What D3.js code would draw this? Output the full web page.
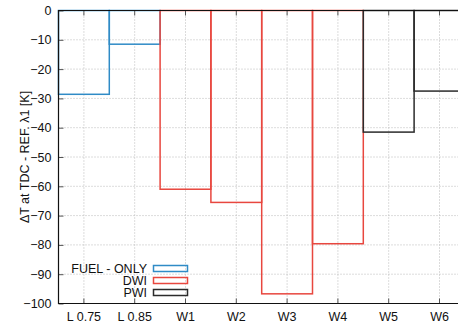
<!DOCTYPE html>
<html>
<head>
<meta charset="utf-8">
<script src="https://cdn.jsdelivr.net/npm/d3@7"></script>
<style>
  html, body { margin: 0; padding: 0; background: #fff; }
  svg { display: block; font-family: "Liberation Sans", Arial, Helvetica, sans-serif; }
</style>
</head>
<body>
<svg id="chart" width="458" height="324"></svg>
<script>
// Cases along the x axis
const categories = ["L 0.75", "L 0.85", "W1", "W2", "W3", "W4", "W5", "W6"];

// Temperature difference at TDC relative to the λ=1 reference [K]
const fuelOnlyCases = ["L 0.75", "L 0.85"];
const fuelOnlyValues = [-28.6, -11.5];
const dwiCases = ["W1", "W2", "W3", "W4"];
const dwiValues = [-61.0, -65.5, -96.7, -79.6];
const pwiCases = ["W5", "W6"];
const pwiValues = [-41.5, -27.5];

const yTicks = [0, -10, -20, -30, -40, -50, -60, -70, -80, -90, -100];

const seriesNames = ["FUEL - ONLY", "DWI", "PWI"];
const seriesColors = ["#2f8bc6", "#e8473f", "#2b2b2b"];

const series = [
  { name: seriesNames[0], color: seriesColors[0], cases: fuelOnlyCases, values: fuelOnlyValues },
  { name: seriesNames[1], color: seriesColors[1], cases: dwiCases, values: dwiValues },
  { name: seriesNames[2], color: seriesColors[2], cases: pwiCases, values: pwiValues }
];

const svg = d3.select("#chart");
const plotLeft = 58.5, plotTop = 10.5, plotBottom = 303.5, step = 50.8;
const plotRight = plotLeft + step * categories.length;

const x = d3.scaleBand().domain(categories).range([plotLeft, plotRight]).paddingInner(0).paddingOuter(0);
const y = d3.scaleLinear().domain([-100, 0]).range([plotBottom, plotTop]);

// Dotted grid
const grid = svg.append("g").attr("stroke", "#b9b9b9").attr("stroke-width", 1)
  .attr("stroke-dasharray", "1,2");
grid.selectAll("line.gx").data(categories).join("line")
  .attr("x1", d => x(d) + x.bandwidth() / 2).attr("x2", d => x(d) + x.bandwidth() / 2)
  .attr("y1", plotTop).attr("y2", plotBottom);
grid.selectAll("line.gy").data(yTicks.filter(t => t !== 0 && t !== -100)).join("line")
  .attr("x1", plotLeft).attr("x2", plotRight)
  .attr("y1", d => y(d)).attr("y2", d => y(d));

// Outlined boxes
series.forEach(s => {
  svg.append("g").selectAll("rect").data(s.cases.map((c, i) => ({ c, v: s.values[i] }))).join("rect")
    .attr("x", d => x(d.c))
    .attr("width", x.bandwidth())
    .attr("y", d => y(0))
    .attr("height", d => y(d.v) - y(0))
    .attr("fill", "none")
    .attr("stroke", s.color)
    .attr("stroke-width", 1.5);
});

// Axes
const yAxis = d3.axisLeft(y).tickValues(yTicks).tickSize(-5).tickPadding(7).tickFormat(d3.format("d"));
const gy = svg.append("g").attr("transform", `translate(${plotLeft},0)`).call(yAxis);
const xAxis = d3.axisBottom(x).tickSize(-5).tickPadding(9);
const gx = svg.append("g").attr("transform", `translate(0,${plotBottom})`).call(xAxis);
[gx, gy].forEach(g => {
  g.select(".domain").remove();
  g.selectAll("line").attr("stroke", "#555");
  g.selectAll("text").attr("font-size", 12.5).attr("fill", "#111")
    .attr("font-family", "'Liberation Sans', Arial, sans-serif");
});

// Top mirror ticks
svg.append("g").selectAll("line").data(categories).join("line")
  .attr("x1", d => x(d) + x.bandwidth() / 2).attr("x2", d => x(d) + x.bandwidth() / 2)
  .attr("y1", plotTop).attr("y2", plotTop + 5).attr("stroke", "#555");

// Border (left, bottom, top)
svg.append("path")
  .attr("d", `M${plotRight},${plotTop}H${plotLeft}V${plotBottom}H${plotRight}`)
  .attr("fill", "none").attr("stroke", "#111").attr("stroke-width", 1.2);

// Y axis title
svg.append("text")
  .attr("transform", `translate(29,157) rotate(-90)`)
  .attr("text-anchor", "middle")
  .attr("font-size", 12.5).attr("fill", "#111")
  .text("ΔT at TDC - REF. λ1 [K]");

// Legend
const legend = svg.append("g");
series.forEach((s, i) => {
  const cy = 268.5 + i * 12;
  legend.append("text").attr("x", 147).attr("y", cy + 4.3)
    .attr("text-anchor", "end").attr("font-size", 12.5).attr("fill", "#111").text(s.name);
  legend.append("rect").attr("x", 153.5).attr("y", cy - 3).attr("width", 34).attr("height", 6)
    .attr("fill", "none").attr("stroke", s.color).attr("stroke-width", 1.5);
});
</script>
</body>
</html>
